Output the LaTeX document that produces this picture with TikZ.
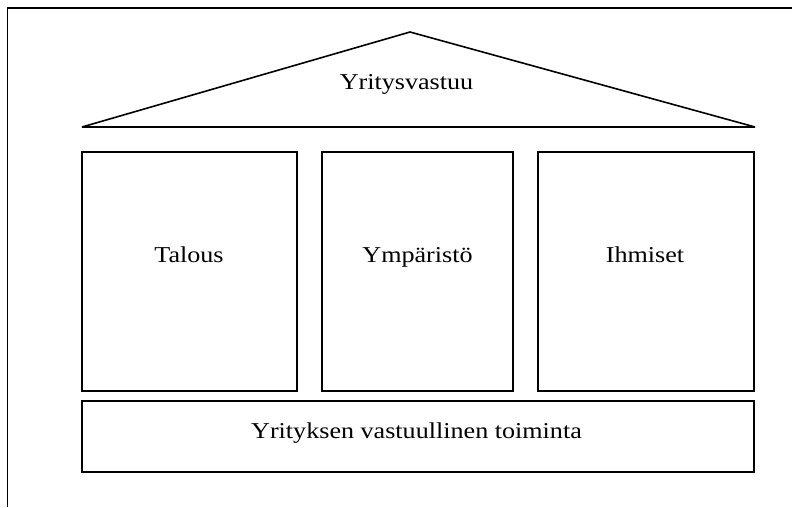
\documentclass[tikz,border=0pt]{standalone}
\usepackage{fontspec}
\setmainfont{Liberation Serif}
\begin{document}
\begin{tikzpicture}[x=1pt,y=-1pt,
  frameline/.style={line width=1.6pt,black},
  pillar/.style={draw,line width=1.6pt,rectangle,inner sep=0pt},
  lbl/.style={anchor=base,inner sep=0pt,font=\fontsize{22.7}{26}\selectfont}]
\useasboundingbox (0,0) rectangle (792,507);
% outer frame lines (top and left only)
\coordinate (ftl) at (7.5,8);
\coordinate (ftr) at (792,8);
\coordinate (fbl) at (7.5,507);
\draw[frameline] (ftr) -- (ftl) -- (fbl);
% roof
\coordinate (roofL) at (82,127);
\coordinate (roofT) at (410,32);
\coordinate (roofR) at (755,127);
\draw[frameline,line join=bevel] (roofL) -- (roofT) -- (roofR) -- cycle;
\node[lbl] (roofText) at (406.5,89) {\scalebox{1.15}[1]{Yritysvastuu}};
% pillars
\node[pillar,minimum width=215pt,minimum height=239pt] (talous) at (189.5,271.5) {};
\node[pillar,minimum width=191pt,minimum height=239pt] (ymparisto) at (417.5,271.5) {};
\node[pillar,minimum width=216pt,minimum height=239pt] (ihmiset) at (646,271.5) {};
\node[lbl] (talousText) at (189,262) {\scalebox{1.15}[1]{Talous}};
\node[lbl] (ymparistoText) at (417.5,262) {\scalebox{1.15}[1]{Ympäristö}};
\node[lbl] (ihmisetText) at (645,262) {\scalebox{1.15}[1]{Ihmiset}};
% base
\node[pillar,minimum width=672pt,minimum height=71pt] (base) at (418,436.5) {};
\node[lbl] (baseText) at (416.5,438) {\scalebox{1.15}[1]{Yrityksen vastuullinen toiminta}};
\end{tikzpicture}
\end{document}
